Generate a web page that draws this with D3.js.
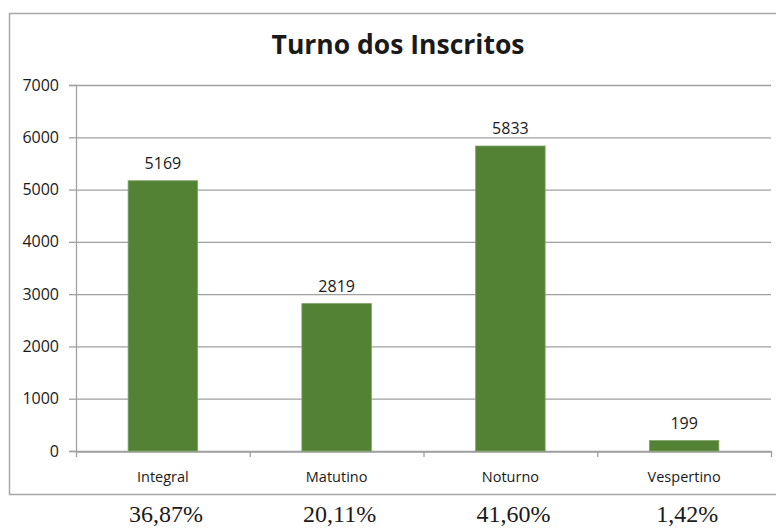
<!DOCTYPE html>
<html>
<head>
<meta charset="utf-8">
<script src="https://cdn.jsdelivr.net/npm/d3@7"></script>
<style>
  body { margin: 0; background: #fff; }
  text { fill: #1a1a1a; }
</style>
</head>
<body>
<div id="container"></div>
<script>
// chart values
var turnos = ["Integral", "Matutino", "Noturno", "Vespertino"];
var inscritos = [5169, 2819, 5833, 199];
var percentuais = ["36,87%", "20,11%", "41,60%", "1,42%"];
var yTicks = [0, 1000, 2000, 3000, 4000, 5000, 6000, 7000];

var svgWidth = 776;
var svgHeight = 528;

var margin = { top: 85, right: 5, bottom: 77, left: 76 };
var width = svgWidth - margin.left - margin.right;
var height = svgHeight - margin.top - margin.bottom;

var svg = d3.select("#container")
  .append("svg")
  .attr("width", svgWidth)
  .attr("height", svgHeight);

// chart border (runs past the right edge like the original screenshot)
svg.append("rect")
  .attr("x", 9.5)
  .attr("y", 13.5)
  .attr("width", 790)
  .attr("height", 481)
  .attr("fill", "none")
  .attr("stroke", "#a6a6a6")
  .attr("stroke-width", 1.5);

svg.append("text")
  .attr("x", 398)
  .attr("y", 54)
  .attr("text-anchor", "middle")
  .style("font-family", "'Open Sans', sans-serif")
  .style("font-weight", "bold")
  .style("font-size", "26.5px")
  .text("Turno dos Inscritos");

var chart = svg.append("g")
  .attr("transform", `translate(${margin.left}, ${margin.top})`);

var x = d3.scaleBand()
  .domain(turnos)
  .range([0, width])
  .paddingInner(0.6)
  .paddingOuter(0.3);

var y = d3.scaleLinear()
  .domain([0, 7000])
  .range([height, 0]);

// gridlines
chart.append("g")
  .selectAll("line")
  .data(yTicks)
  .enter()
  .append("line")
  .attr("x1", 0)
  .attr("x2", width)
  .attr("y1", d => y(d) + 0.5)
  .attr("y2", d => y(d) + 0.5)
  .attr("stroke", "#a0a0a0")
  .attr("stroke-width", 1.3);

var leftAxis = d3.axisLeft(y)
  .tickValues(yTicks)
  .tickFormat(d3.format("d"))
  .tickSize(7)
  .tickPadding(10);
var yAxis = chart.append("g").call(leftAxis);
yAxis.select(".domain").attr("stroke", "#a0a0a0").attr("stroke-width", 1.3);
yAxis.selectAll(".tick line").attr("stroke", "#a0a0a0").attr("stroke-width", 1.3);
yAxis.selectAll(".tick text")
  .style("font-family", "'Open Sans', sans-serif")
  .style("font-size", "16px")
  .attr("fill", "#1a1a1a");

// x axis: tick marks at category boundaries
var bottomAxis = d3.axisBottom(x).tickSize(0).tickPadding(20);
var xAxis = chart.append("g")
  .attr("transform", `translate(0, ${height + 0.5})`)
  .call(bottomAxis);
xAxis.select(".domain").attr("stroke", "#a0a0a0").attr("stroke-width", 1.3);
xAxis.selectAll(".tick text")
  .style("font-family", "'Open Sans', sans-serif")
  .style("font-size", "14.5px")
  .attr("fill", "#1a1a1a");

var step = x.step();
chart.append("g")
  .selectAll("line")
  .data(d3.range(turnos.length + 1))
  .enter()
  .append("line")
  .attr("x1", i => i * step + 0.5)
  .attr("x2", i => i * step + 0.5)
  .attr("y1", height)
  .attr("y2", height + 6)
  .attr("stroke", "#a0a0a0")
  .attr("stroke-width", 1.3);

var dados = turnos.map((t, i) => ({ turno: t, valor: inscritos[i], pct: percentuais[i] }));

chart.selectAll(".bar")
  .data(dados)
  .enter()
  .append("rect")
  .attr("class", "bar")
  .attr("x", d => x(d.turno))
  .attr("y", d => y(d.valor))
  .attr("width", x.bandwidth())
  .attr("height", d => height - y(d.valor))
  .attr("fill", "#548235")
  .attr("stroke", "#7ea363")
  .attr("stroke-width", 0.8);

chart.selectAll(".valor")
  .data(dados)
  .enter()
  .append("text")
  .attr("class", "valor")
  .attr("x", d => x(d.turno) + x.bandwidth() / 2)
  .attr("y", d => y(d.valor) - 12)
  .attr("text-anchor", "middle")
  .style("font-family", "'Open Sans', sans-serif")
  .style("font-size", "16px")
  .text(d => d.valor);

// percentages under the chart box
chart.selectAll(".pct")
  .data(dados)
  .enter()
  .append("text")
  .attr("class", "pct")
  .attr("x", d => x(d.turno) + x.bandwidth() / 2 + 3)
  .attr("y", height + 71)
  .attr("text-anchor", "middle")
  .style("font-family", "'Liberation Serif', 'Times New Roman', serif")
  .style("font-size", "24px")
  .text(d => d.pct);
</script>
</body>
</html>
